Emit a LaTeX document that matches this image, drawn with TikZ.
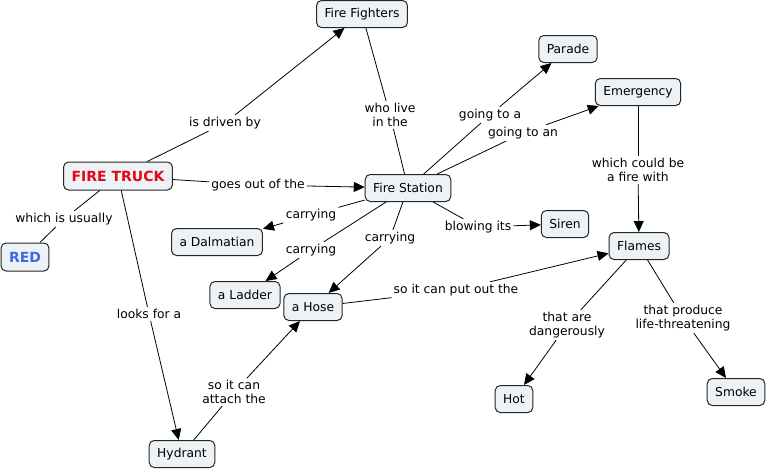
\documentclass[tikz,border=0pt]{standalone}
\usepackage{fontspec}
\setmainfont{DejaVu Sans}
\usetikzlibrary{arrows.meta}
\definecolor{cfill}{RGB}{236,242,245}
\definecolor{ftred}{RGB}{225,10,20}
\definecolor{redblue}{RGB}{60,105,230}
\begin{document}
\begin{tikzpicture}[x=1pt,y=-1pt,
  concept/.style={draw=black!85, fill=cfill, rounded corners=5pt, line width=1pt,
    inner xsep=8pt, inner ysep=4pt, minimum height=27pt,
    font=\fontsize{12.3}{14}\selectfont},
  lbl/.style={inner sep=2pt, align=center, font=\fontsize{12.3}{14}\selectfont},
  link/.style={line width=0.8pt, black},
  arr/.style={link, -{Triangle[length=11pt,width=10pt]}}]
\useasboundingbox (0,0) rectangle (767,471);
% concepts
\node[concept] (ff) at (362,14) {Fire Fighters};
\node[concept, font=\fontsize{14}{15}\bfseries, text=ftred, minimum height=28pt] (ft) at (118,176) {FIRE TRUCK};
\node[concept, font=\fontsize{14}{15}\bfseries, text=redblue, minimum height=28pt] (red) at (25,257) {RED};
\node[concept] (fs) at (408,188) {Fire Station};
\node[concept] (parade) at (568,49) {Parade};
\node[concept] (emerg) at (638,92) {Emergency};
\node[concept] (siren) at (565,224) {Siren};
\node[concept] (flames) at (639,246) {Flames};
\node[concept] (dalm) at (217,242) {a Dalmatian};
\node[concept] (ladder) at (245,295) {a Ladder};
\node[concept] (hose) at (313,307) {a Hose};
\node[concept] (hot) at (514,399) {Hot};
\node[concept] (smoke) at (736,392) {Smoke};
\node[concept] (hydrant) at (182,454) {Hydrant};
% linking phrases
\node[lbl] (l1) at (225,123) {is driven by};
\node[lbl] (l2) at (64,219) {which is usually};
\node[lbl] (l3) at (258,185) {goes out of the};
\node[lbl] (l4) at (149,314) {looks for a};
\node[lbl] (l5) at (390,115) {who live\\in the};
\node[lbl] (l6) at (490,115) {going to a};
\node[lbl] (l7) at (523,133) {going to an};
\node[lbl] (l8) at (638,170) {which could be\\a fire with};
\node[lbl] (l9) at (311,215) {carrying};
\node[lbl] (l10) at (311,250) {carrying};
\node[lbl] (l11) at (390,238) {carrying};
\node[lbl] (l12) at (478,227) {blowing its};
\node[lbl] (l13) at (456,290) {so it can put out the};
\node[lbl] (l14) at (567,325) {that are\\dangerously};
\node[lbl] (l15) at (683,318) {that produce\\life-threatening};
\node[lbl] (l16) at (234,392) {so it can\\attach the};
% connectors
\draw[link] (ft) -- (l1); \draw[arr] (l1) -- (ff);
\draw[link] (ft) -- (l2); \draw[link] (l2) -- (red);
\draw[link] (ft) -- (l3); \draw[arr] (l3) -- (fs);
\draw[link] (ft) -- (l4); \draw[arr] (l4) -- (hydrant);
\draw[link] (ff) -- (l5); \draw[link] (l5) -- (fs);
\draw[link] (fs) -- (l6); \draw[arr] (l6) -- (parade);
\draw[link] (fs) -- (l7); \draw[arr] (l7) -- (emerg);
\draw[link] (emerg) -- (l8); \draw[arr] (l8) -- (flames);
\draw[link] (fs) -- (l9); \draw[arr] (l9) -- (dalm);
\draw[link] (fs) -- (l10); \draw[arr] (l10) -- (ladder);
\draw[link] (fs) -- (l11); \draw[arr] (l11) -- (hose);
\draw[link] (fs) -- (l12); \draw[arr] (l12) -- (siren);
\draw[link] (hose) -- (l13); \draw[arr] (l13) -- (flames);
\draw[link] (flames) -- (l14); \draw[arr] (l14) -- (hot);
\draw[link] (flames) -- (l15); \draw[arr] (l15) -- (smoke);
\draw[link] (hydrant) -- (l16); \draw[arr] (l16) -- (hose);
\end{tikzpicture}
\end{document}
